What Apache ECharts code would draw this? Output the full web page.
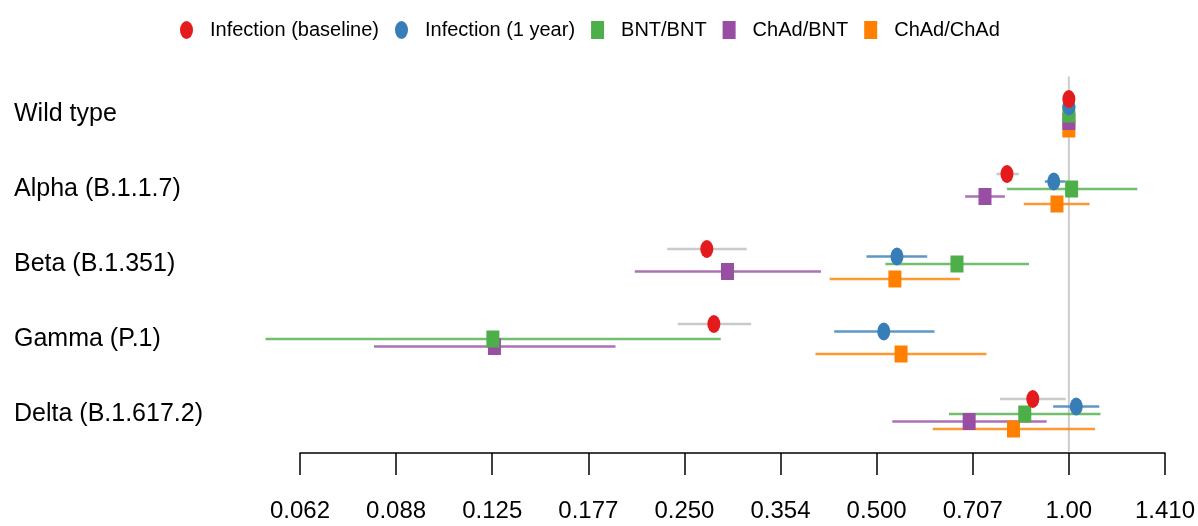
<!DOCTYPE html>
<html>
<head>
<meta charset="utf-8">
<script src="https://cdn.jsdelivr.net/npm/echarts@6/dist/echarts.min.js"></script>
<style>
  html, body { margin: 0; padding: 0; background: #fff; }
  #chart { width: 1198px; height: 526px; }
</style>
</head>
<body>
<div id="chart"></div>
<script>
const categories = ['Wild type', 'Alpha (B.1.1.7)', 'Beta (B.1.351)', 'Gamma (P.1)', 'Delta (B.1.617.2)']
const seriesNames = ['Infection (baseline)', 'Infection (1 year)', 'BNT/BNT', 'ChAd/BNT', 'ChAd/ChAd']
const tickLabels = ['0.062', '0.088', '0.125', '0.177', '0.250', '0.354', '0.500', '0.707', '1.00', '1.410']

// fold change vs wild type, one value per category (null = no interval)
const baselineEst = [1, 0.80, 0.271, 0.278, 0.878]
const baselineLow = [null, 0.77, 0.235, 0.244, 0.78]
const baselineHigh = [null, 0.835, 0.313, 0.318, 0.989]
const yearEst = [1, 0.947, 0.538, 0.513, 1.027]
const yearLow = [null, 0.917, 0.482, 0.429, 0.945]
const yearHigh = [null, 0.986, 0.600, 0.616, 1.116]
const bntEst = [1, 1.01, 0.668, 0.1253, 0.853]
const bntLow = [null, 0.80, 0.516, 0.0552, 0.649]
const bntHigh = [null, 1.28, 0.866, 0.285, 1.121]
const chadBntEst = [1, 0.739, 0.292, 0.126, 0.698]
const chadBntLow = [null, 0.688, 0.209, 0.0816, 0.529]
const chadBntHigh = [null, 0.794, 0.409, 0.195, 0.923]
const chadChadEst = [1, 0.958, 0.534, 0.546, 0.819]
const chadChadLow = [null, 0.85, 0.422, 0.401, 0.612]
const chadChadHigh = [null, 1.078, 0.675, 0.743, 1.099]

const estimates = [baselineEst, yearEst, bntEst, chadBntEst, chadChadEst]
const lows = [baselineLow, yearLow, bntLow, chadBntLow, chadChadLow]
const highs = [baselineHigh, yearHigh, bntHigh, chadBntHigh, chadChadHigh]

// styling
const colors = ['#e41a1c', '#377eb8', '#4daf4a', '#984ea3', '#ff7f00']
const barColors = ['#bdbdbd', '#377eb8', '#4daf4a', '#984ea3', '#ff7f00']
const rowOffsets = [-0.2, -0.1, 0, 0.1, 0.2]
const ellipse = 'path://M50,0A50,50,0,1,1,50,100A50,50,0,1,1,50,0Z'
const symbols = [ellipse, ellipse, 'rect', 'rect', 'rect']
const symbolSizes = [[13, 18], [13, 18], [13, 17], [13, 17], [13, 17]]
const font = "'Liberation Sans', Arial, sans-serif"

const chart = echarts.init(document.getElementById('chart'))

const barSeries = seriesNames.map((name, k) => ({
  name: 'ci-' + k,
  type: 'custom',
  clip: false,
  z: 1,
  silent: true,
  encode: { x: [0, 1], y: 2 },
  data: categories
    .map((c, i) => lows[k][i] == null ? null
      : [Math.log2(lows[k][i]), Math.log2(highs[k][i]), i + rowOffsets[k]])
    .filter(d => d),
  renderItem: (params, api) => {
    const p1 = api.coord([api.value(0), api.value(2)])
    const p2 = api.coord([api.value(1), api.value(2)])
    return {
      type: 'line',
      shape: { x1: p1[0], y1: p1[1], x2: p2[0], y2: p2[1] },
      style: { stroke: barColors[k], lineWidth: 2.5, opacity: 0.8 }
    }
  }
}))

// draw red last so it sits on top
const pointSeries = seriesNames.map((name, k) => ({
  name: name,
  type: 'scatter',
  clip: false,
  z: 2,
  symbol: symbols[k],
  symbolSize: symbolSizes[k],
  symbolKeepAspect: false,
  itemStyle: { color: colors[k], opacity: 1 },
  data: estimates[k].map((v, i) => [Math.log2(v), i + rowOffsets[k]])
})).reverse()

const refLine = {
  name: 'ref',
  type: 'custom',
  clip: false,
  z: 0,
  silent: true,
  encode: { x: 0, y: [1, 2] },
  data: [[0, -0.5, 4.5]],
  renderItem: (params, api) => {
    const p1 = api.coord([api.value(0), api.value(1)])
    const p2 = api.coord([api.value(0), api.value(2)])
    return {
      type: 'line',
      shape: { x1: p1[0], y1: p1[1], x2: p2[0], y2: p2[1] },
      style: { stroke: '#cccccc', lineWidth: 2 }
    }
  }
}

chart.setOption({
  animation: false,
  textStyle: { fontFamily: font },
  legend: {
    data: seriesNames,
    left: 175,
    top: 15,
    itemWidth: 13,
    itemHeight: 18,
    itemGap: 16,
    symbolKeepAspect: false,
    textStyle: { fontSize: 20, color: '#000', fontFamily: font, padding: [0, 0, 0, 12] }
  },
  grid: { left: 300, right: 33, top: 114, bottom: 112 },
  xAxis: {
    type: 'value',
    position: 'bottom',
    min: -4,
    max: 0.5,
    interval: 0.5,
    offset: 39,
    splitLine: { show: false },
    axisLine: { onZero: false, lineStyle: { color: '#000', width: 1.5 } },
    axisTick: { length: 22, lineStyle: { color: '#000', width: 1.5 } },
    axisLabel: {
      fontSize: 24,
      color: '#000',
      fontFamily: font,
      margin: 46,
      formatter: v => tickLabels[Math.round((v + 4) / 0.5)]
    }
  },
  yAxis: {
    type: 'value',
    min: 0,
    max: 4,
    interval: 1,
    inverse: true,
    splitLine: { show: false },
    axisLine: { show: false },
    axisTick: { show: false },
    axisLabel: {
      fontSize: 25,
      color: '#000',
      fontFamily: font,
      align: 'left',
      margin: 286,
      formatter: v => categories[v]
    }
  },
  series: [refLine, ...barSeries, ...pointSeries]
})
</script>
</body>
</html>
